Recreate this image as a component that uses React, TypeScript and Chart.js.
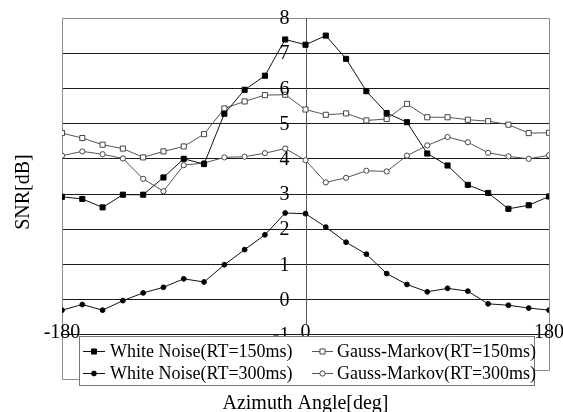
import React, { useEffect, useRef } from 'react';
import { Chart, registerables } from 'chart.js';

Chart.register(...registerables);

const angles = [-180, -165, -150, -135, -120, -105, -90, -75, -60, -45, -30, -15, 0, 15, 30, 45, 60, 75, 90, 105, 120, 135, 150, 165, 180];
const whiteNoise150 = [2.92, 2.86, 2.62, 2.98, 2.98, 3.47, 4.0, 3.85, 5.28, 5.96, 6.36, 7.39, 7.24, 7.5, 6.84, 5.92, 5.3, 5.04, 4.15, 3.81, 3.26, 3.03, 2.58, 2.68, 2.93];
const gaussMarkov150 = [4.73, 4.59, 4.4, 4.29, 4.04, 4.21, 4.35, 4.7, 5.43, 5.63, 5.81, 5.82, 5.4, 5.25, 5.29, 5.09, 5.13, 5.56, 5.18, 5.18, 5.11, 5.07, 4.97, 4.73, 4.74];
const whiteNoise300 = [-0.3, -0.14, -0.3, -0.03, 0.19, 0.35, 0.59, 0.5, 0.99, 1.42, 1.84, 2.46, 2.44, 2.06, 1.63, 1.29, 0.74, 0.43, 0.22, 0.32, 0.24, -0.12, -0.16, -0.24, -0.3];
const gaussMarkov300 = [4.09, 4.21, 4.13, 4.01, 3.43, 3.08, 3.82, 3.88, 4.04, 4.06, 4.16, 4.29, 3.96, 3.33, 3.46, 3.66, 3.64, 4.09, 4.38, 4.62, 4.47, 4.17, 4.07, 4.0, 4.1];

const seriesNames = ['White Noise(RT=150ms)', 'Gauss-Markov(RT=150ms)', 'White Noise(RT=300ms)', 'Gauss-Markov(RT=300ms)'];
const yTickLabels = [8, 7, 6, 5, 4, 3, 2, 1, 0, -1];
const xTickLabels = [-180, 0, 180];
const yTitle = 'SNR[dB]';
const xTitle = 'Azimuth Angle[deg]';

const FONT = '"Liberation Serif", "Times New Roman", serif';

const toPoints = (vals: number[]) => vals.map((v, i) => ({ x: angles[i], y: v }));

function drawMarker(ctx: CanvasRenderingContext2D, style: string, r: number, fill: string, stroke: string, x: number, y: number) {
  ctx.save();
  ctx.fillStyle = fill;
  ctx.strokeStyle = stroke;
  ctx.lineWidth = 1;
  ctx.beginPath();
  if (style === 'rect') {
    const s = r * Math.SQRT1_2;
    ctx.rect(x - s, y - s, 2 * s, 2 * s);
  } else {
    ctx.arc(x, y, r, 0, Math.PI * 2);
  }
  ctx.fill();
  ctx.stroke();
  ctx.restore();
}

export default function App() {
  const ref = useRef<HTMLCanvasElement>(null);

  useEffect(() => {
    const canvas = ref.current;
    if (!canvas) return;

    const legendBox = { left: 79, top: 336, right: 534, bottom: 385 };
    const legendCols = [{ line: 83, lineEnd: 105, text: 110 }, { line: 312, lineEnd: 333, text: 337 }];
    const legendRows = [351, 373];

    const overlay = {
      id: 'overlay',
      beforeDatasetsDraw(chart: any) {
        const { ctx, chartArea: a, scales } = chart;
        const x0 = Math.round(scales.x.getPixelForValue(0)) + 0.5;
        const yMinus1 = scales.y.getPixelForValue(-1);
        ctx.save();
        ctx.lineWidth = 1;
        ctx.strokeStyle = '#8c8c8c';
        ctx.beginPath();
        const L = Math.round(a.left) + 0.5;
        const R = Math.round(a.right) + 0.5;
        const T = Math.round(a.top) + 0.5;
        const B = Math.round(a.bottom) + 0.5;
        ctx.moveTo(legendBox.left, B + 9);
        ctx.lineTo(L, B + 9);
        ctx.lineTo(L, T);
        ctx.lineTo(R, T);
        ctx.lineTo(R, B);
        ctx.lineTo(legendBox.right, B);
        ctx.stroke();
        ctx.strokeStyle = '#555';
        ctx.beginPath();
        ctx.moveTo(x0, T);
        ctx.lineTo(x0, yMinus1 - 10);
        ctx.stroke();
        ctx.restore();
      },
      afterDraw(chart: any) {
        const { ctx, chartArea: a, scales } = chart;
        const x0 = scales.x.getPixelForValue(0);
        ctx.save();
        ctx.fillStyle = '#000';
        ctx.font = `20px ${FONT}`;
        ctx.textBaseline = 'middle';
        ctx.textAlign = 'right';
        yTickLabels.forEach((v) => {
          ctx.fillText(String(v), x0 - 16, scales.y.getPixelForValue(v) + 1);
        });
        ctx.textAlign = 'center';
        const yx = scales.y.getPixelForValue(-1) - 2;
        xTickLabels.forEach((v) => {
          ctx.fillText(String(v), scales.x.getPixelForValue(v), yx);
        });

        // axis titles
        ctx.font = `20px ${FONT}`;
        ctx.textBaseline = 'alphabetic';
        ctx.fillText(xTitle, (a.left + a.right) / 2, 409);
        ctx.save();
        ctx.translate(29, (a.top + a.bottom) / 2 - 2);
        ctx.rotate(-Math.PI / 2);
        ctx.textAlign = 'center';
        ctx.fillText(yTitle, 0, 0);
        ctx.restore();

        // legend
        ctx.fillStyle = '#fff';
        ctx.fillRect(legendBox.left, legendBox.top, legendBox.right - legendBox.left, legendBox.bottom - legendBox.top);
        ctx.strokeStyle = '#777';
        ctx.lineWidth = 1;
        ctx.strokeRect(legendBox.left + 0.5, legendBox.top + 0.5, legendBox.right - legendBox.left, legendBox.bottom - legendBox.top);
        const datasets = chart.data.datasets;
        const order = [0, 1, 2, 3];
        order.forEach((di, k) => {
          const ds = datasets[di];
          const col = legendCols[k % 2];
          const row = legendRows[Math.floor(k / 2)];
          const yy = Math.round(row) + 0.5;
          ctx.strokeStyle = ds.borderColor;
          ctx.lineWidth = 1;
          ctx.beginPath();
          ctx.moveTo(col.line, yy);
          ctx.lineTo(col.lineEnd, yy);
          ctx.stroke();
          drawMarker(ctx, ds.pointStyle, ds.pointRadius, ds.pointBackgroundColor, ds.pointBorderColor, (col.line + col.lineEnd) / 2, yy);
          ctx.fillStyle = '#000';
          ctx.font = `18px ${FONT}`;
          ctx.textAlign = 'left';
          ctx.textBaseline = 'middle';
          ctx.fillText(ds.label, col.text, row + 1);
        });
        ctx.restore();
      },
    };

    const chart = new Chart(canvas, {
      type: 'line',
      data: {
        datasets: [
          {
            label: seriesNames[0],
            data: toPoints(whiteNoise150),
            borderColor: '#111',
            borderWidth: 1,
            pointStyle: 'rect',
            pointRadius: 3.6,
            pointBackgroundColor: '#000',
            pointBorderColor: '#000',
            pointBorderWidth: 1,
            tension: 0,
          },
          {
            label: seriesNames[1],
            data: toPoints(gaussMarkov150),
            borderColor: '#555',
            borderWidth: 1,
            pointStyle: 'rect',
            pointRadius: 3.6,
            pointBackgroundColor: '#fff',
            pointBorderColor: '#444',
            pointBorderWidth: 1,
            tension: 0,
          },
          {
            label: seriesNames[2],
            data: toPoints(whiteNoise300),
            borderColor: '#111',
            borderWidth: 1,
            pointStyle: 'circle',
            pointRadius: 2.4,
            pointBackgroundColor: '#000',
            pointBorderColor: '#000',
            pointBorderWidth: 1,
            tension: 0,
          },
          {
            label: seriesNames[3],
            data: toPoints(gaussMarkov300),
            borderColor: '#555',
            borderWidth: 1,
            pointStyle: 'circle',
            pointRadius: 2.6,
            pointBackgroundColor: '#fff',
            pointBorderColor: '#444',
            pointBorderWidth: 1,
            tension: 0,
          },
        ],
      },
      options: {
        responsive: false,
        animation: false,
        layout: { padding: { left: 62, top: 18, right: 14, bottom: 42 } },
        plugins: { legend: { display: false }, tooltip: { enabled: false } },
        scales: {
          x: {
            type: 'linear',
            min: -180,
            max: 180,
            ticks: { display: false },
            grid: { display: false, drawTicks: false },
            border: { display: false },
          },
          y: {
            type: 'linear',
            min: -2,
            max: 8,
            ticks: { display: false, stepSize: 1 },
            grid: {
              drawTicks: false,
              tickLength: 0,
              lineWidth: 1,
              color: (c: any) => (c.tick && (c.tick.value === 8 || c.tick.value === -2) ? 'rgba(0,0,0,0)' : '#1a1a1a'),
            },
            border: { display: false },
          },
        },
      },
      plugins: [overlay],
    } as any);

    return () => chart.destroy();
  }, []);

  return (
    <div style={{ position: 'absolute', left: 0, top: 0, width: 563, height: 412, background: '#fff' }}>
      <canvas ref={ref} width={563} height={412} style={{ display: 'block' }} />
    </div>
  );
}
